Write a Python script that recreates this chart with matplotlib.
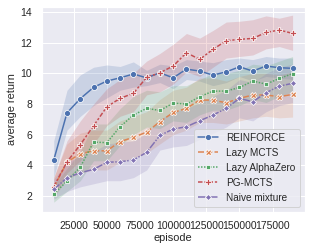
import numpy as np
import matplotlib.pyplot as plt
import seaborn as sns

sns.set_theme(style="darkgrid", context="notebook")
plt.rcParams['font.family'] = ['Liberation Sans', 'DejaVu Sans']
plt.rcParams['xtick.labelsize'] = 10.4
plt.rcParams['ytick.labelsize'] = 10.4
plt.rcParams['legend.fontsize'] = 10
plt.rcParams['axes.labelsize'] = 11

episodes = np.arange(10000, 200000, 10000)

reinforce = [4.35, 7.43, 8.35, 9.09, 9.5, 9.71, 9.96, 9.71, 10.04, 9.71,
             10.28, 10.15, 9.89, 10.1, 10.43, 10.15, 10.48, 10.37, 10.33]
reinforce_lo = [3.2, 6.3, 7.2, 7.9, 8.4, 8.9, 9.1, 9.2, 9.4, 9.0,
                9.6, 9.5, 9.2, 9.4, 9.8, 9.5, 9.8, 9.7, 9.6]
reinforce_hi = [5.6, 8.9, 9.9, 10.4, 10.55, 10.45, 10.75, 10.2, 10.6, 10.5,
                10.9, 10.8, 10.7, 10.9, 11.0, 10.9, 11.1, 11.0, 11.0]

lazy_mcts = [2.55, 4.22, 4.76, 4.95, 4.95, 5.55, 5.83, 6.17, 6.85, 7.45,
             7.72, 8.26, 8.26, 8.08, 8.37, 8.59, 8.59, 8.48, 8.63]
lazy_mcts_lo = [1.9, 3.1, 3.5, 3.7, 3.7, 4.2, 4.5, 4.8, 5.4, 6.0,
                6.3, 6.8, 6.8, 6.7, 6.9, 7.1, 7.2, 7.1, 7.15]
lazy_mcts_hi = [3.2, 5.4, 6.1, 6.3, 6.3, 6.9, 7.2, 7.5, 8.3, 8.9,
                9.1, 9.7, 9.7, 9.5, 9.8, 10.0, 10.0, 9.9, 10.1]

lazy_az = [2.13, 2.98, 3.89, 5.52, 5.48, 6.52, 7.28, 7.72, 7.58, 8.06,
           8.0, 8.48, 8.84, 8.85, 9.08, 9.5, 9.3, 9.67, 9.98]
lazy_az_lo = [1.6, 2.3, 3.0, 4.3, 4.3, 5.3, 6.0, 6.5, 6.4, 6.9,
              6.8, 7.3, 7.6, 7.6, 7.9, 8.3, 8.1, 8.5, 8.8]
lazy_az_hi = [2.7, 3.8, 4.9, 6.7, 6.7, 7.7, 8.5, 8.9, 8.8, 9.2,
              9.2, 9.6, 10.0, 10.0, 10.2, 10.6, 10.5, 10.8, 11.1]

pg_mcts = [2.62, 4.23, 5.35, 6.58, 7.82, 8.37, 8.7, 9.74, 10.04, 10.48,
           11.35, 10.91, 11.57, 12.13, 12.22, 12.28, 12.67, 12.83, 12.61]
pg_mcts_lo = [2.0, 3.5, 4.3, 5.4, 6.6, 7.2, 7.5, 8.6, 8.8, 9.3,
              10.1, 9.8, 10.4, 11.0, 11.1, 11.2, 11.6, 11.75, 11.5]
pg_mcts_hi = [3.2, 5.6, 6.9, 8.0, 9.0, 9.6, 10.0, 10.8, 11.3, 11.9,
              12.6, 12.3, 12.8, 13.35, 13.4, 13.5, 13.75, 13.6, 13.8]

naive = [2.43, 3.19, 3.52, 3.74, 4.2, 4.24, 4.35, 4.85, 5.95, 6.37,
         6.52, 6.91, 7.28, 7.72, 8.37, 8.15, 8.74, 9.17, 9.35]
naive_lo = [1.8, 2.3, 2.6, 2.8, 3.0, 3.0, 3.2, 3.7, 5.0, 5.2,
            5.3, 5.7, 6.1, 6.5, 7.1, 6.9, 7.5, 7.9, 8.1]
naive_hi = [3.1, 4.2, 4.6, 4.9, 5.4, 5.5, 5.6, 6.1, 7.0, 7.5,
            7.7, 8.1, 8.5, 8.9, 9.6, 9.4, 10.0, 10.4, 10.6]

names = ["REINFORCE", "Lazy MCTS", "Lazy AlphaZero", "PG-MCTS", "Naive mixture"]
means = [reinforce, lazy_mcts, lazy_az, pg_mcts, naive]
lows = [reinforce_lo, lazy_mcts_lo, lazy_az_lo, pg_mcts_lo, naive_lo]
highs = [reinforce_hi, lazy_mcts_hi, lazy_az_hi, pg_mcts_hi, naive_hi]

colors = sns.color_palette("deep")
markers = ["o", "X", (4, 0, 45), "P", (4, 0, 0)]
dashes = [(None, None), (4, 1.5), (1, 1), (3, 1.25, 1.5, 1.25), (5, 1, 1, 1)]

fig, ax = plt.subplots(figsize=(312 / 72, 252 / 72), dpi=72)
fig.subplots_adjust(left=0.134, right=0.976, bottom=0.16, top=0.971)
for i, name in enumerate(names):
    ax.fill_between(episodes, lows[i], highs[i], color=colors[i], alpha=0.2, linewidth=0)
    line, = ax.plot(episodes, means[i], color=colors[i], marker=markers[i],
                    markeredgecolor="w", markeredgewidth=0.75, label=name)
    if i > 0:
        line.set_dashes(dashes[i])

ax.set_xlim(1000, 199000)
ax.set_ylim(0.98, 14.31)
ax.set_yticks([2, 4, 6, 8, 10, 12, 14])
ax.set_xticks([25000, 50000, 75000, 100000, 125000, 150000, 175000])
ax.set_xlabel("episode", labelpad=2)
ax.set_ylabel("average return")
ax.legend(loc="lower right")
plt.savefig("out.png", dpi=72)
